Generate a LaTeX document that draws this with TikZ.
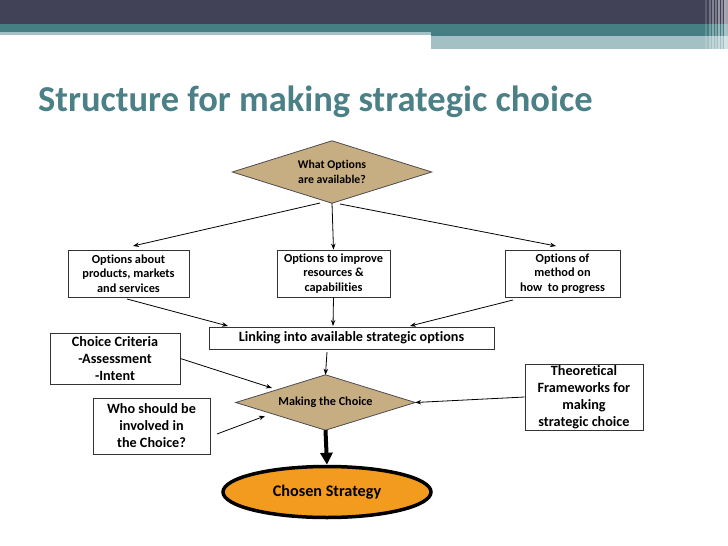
\documentclass[tikz,border=0pt]{standalone}
\usepackage{fontspec}
\setmainfont{Carlito}[Ligatures=CommonOff]
\usetikzlibrary{shapes.geometric,arrows.meta,backgrounds}
\definecolor{hdark}{HTML}{414257}
\definecolor{hteal}{HTML}{457F84}
\definecolor{hlight}{HTML}{A3C1C4}
\definecolor{titlecol}{HTML}{4A8086}
\definecolor{tan}{HTML}{C7AD82}
\definecolor{orangefill}{HTML}{F29B1F}
\begin{document}
\begin{tikzpicture}[x=1pt,y=-1pt,
  optbox/.style={draw=black!80,line width=0.8pt,fill=white,align=center,inner sep=0pt,font=\bfseries\fontsize{12.3}{14.5}\selectfont},
  sidebox/.style={draw=black!80,line width=0.8pt,fill=white,align=center,inner sep=0pt,font=\bfseries\fontsize{14.2}{17}\selectfont},
  diatext/.style={rectangle,inner sep=0pt,align=center},
  diafill/.style={draw=black!70,line width=0.8pt,fill=tan},
  arr/.style={-{Stealth[length=6pt,width=4.5pt]},line width=0.8pt},
]
\useasboundingbox (0,0) rectangle (728,546);
% header
\fill[hdark] (0,0) rectangle (728,24);
\fill[hteal] (0,24) rectangle (431,32);
\fill[hlight] (0,32) rectangle (431,35);
\fill[hteal] (431,24) rectangle (728,36);
\fill[hlight] (431,36) rectangle (728,49);
\foreach \xx/\op in {705/0.15,709/0.25,712/0.35,715/0.3,718/0.45,721/0.4,724/0.55,726/0.5}
  \fill[white,opacity=\op] (\xx,0) rectangle (\xx+2,49);
% title
\node[anchor=base west,inner sep=0pt,text=titlecol,font=\bfseries\fontsize{36.5}{42}\selectfont] (title) at (38,111) {Structure for making strategic choice};
% nodes
\node[diatext,minimum width=199,minimum height=62,font=\bfseries\fontsize{11.8}{15}\selectfont] (top) at (332,172) {What Options\\are available?};
\node[optbox,minimum width=121,minimum height=47] (b1) at (128.5,273.5) {Options about\\products, markets\\and services};
\node[optbox,minimum width=113,minimum height=47] (b2) at (333.5,273.5) {Options to improve\\resources \&\\capabilities};
\node[optbox,minimum width=115,minimum height=47] (b3) at (562.5,273.5) {Options of\\method on\\how~ to progress};
\node[sidebox,minimum width=285,minimum height=22] (link) at (351.5,338) {Linking into available strategic options};
\node[sidebox,minimum width=130,minimum height=51] (crit) at (115,358.5) {Choice Criteria\\-Assessment\\-Intent};
\node[sidebox,minimum width=117,minimum height=56] (who) at (151.5,426) {Who should be\\involved in\\the Choice?};
\node[sidebox,minimum width=118,minimum height=66] (theo) at (584,397) {Theoretical\\Frameworks for\\making\\strategic choice};
\node[diatext,minimum width=179,minimum height=55,font=\bfseries\fontsize{12.2}{14}\selectfont] (make) at (325.5,402.5) {Making the Choice};
\node[ellipse,draw=black,line width=3.5pt,fill=orangefill,minimum width=208,minimum height=51,inner sep=0pt,font=\bfseries\fontsize{16.2}{19}\selectfont] (chosen) at (327,492) {Chosen Strategy};
\begin{pgfonlayer}{background}
  \draw[diafill] (top.north) -- (top.east) -- (top.south) -- (top.west) -- cycle;
  \draw[diafill] (make.north) -- (make.east) -- (make.south) -- (make.west) -- cycle;
\end{pgfonlayer}
% connector points
\coordinate (tl) at (320,203);
\coordinate (tr) at (340,204);
% arrows
\draw[arr] (tl) -- (133,246);
\draw[arr] (top.south) -- (b2.north);
\draw[arr] (tr) -- (556,246);
\draw[arr] (127,299) -- (228,326);
\draw[arr] (b2.south) -- (333,326);
\draw[arr] (513,300) -- (410,326);
\draw[arr] (327,352) -- (make.north);
\draw[arr] (crit.east) -- (272,388);
\draw[arr] (217,434) -- (265,416);
\draw[arr] (theo.west) -- (make.east);
\draw[line width=4pt,-{Triangle[length=12pt,width=12pt]}] (make.south) -- (chosen.north);
\end{tikzpicture}
\end{document}
